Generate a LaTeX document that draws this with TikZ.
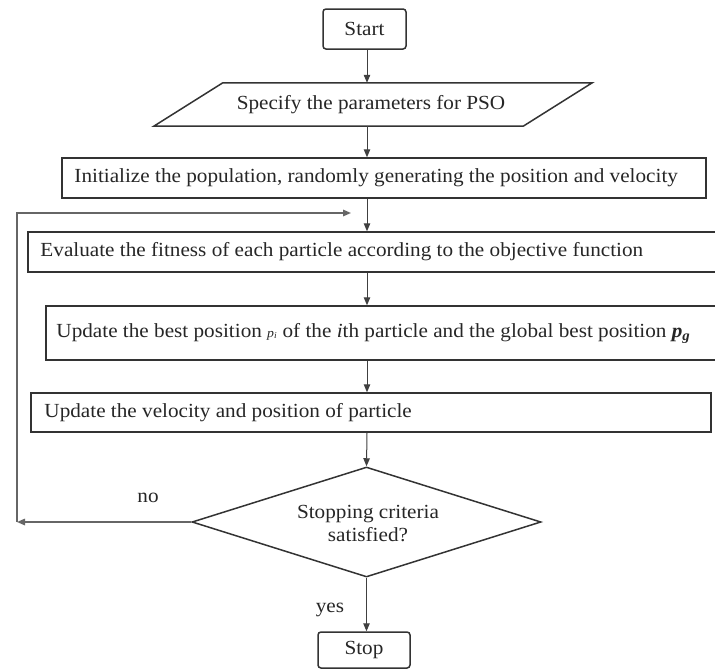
\documentclass[tikz,border=0pt]{standalone}
\usepackage{fontspec}
\setmainfont{Liberation Serif}[FakeStretch=1.06]
\usetikzlibrary{arrows.meta,shapes.geometric,calc}
\begin{document}
\begin{tikzpicture}[x=1pt,y=-1pt,
  box/.style={draw=black!80, line width=1.5pt, inner sep=0pt},
  txt/.style={font=\fontsize{20}{23}\selectfont, text=black!85, inner sep=0pt},
  arr/.style={draw=black!75, line width=1pt, -{Triangle[length=8pt,width=6.5pt]}},
  loopline/.style={draw=black!60, line width=1.5pt}
]
\useasboundingbox (0,0) rectangle (715,672);
\coordinate (sx) at (367,0);

% Start
\node[box, rounded corners=3pt, minimum width=83pt, minimum height=40pt, txt] (start) at (364.5,29) {Start};

% parameters (parallelogram)
\node[inner sep=0pt, minimum width=438pt, minimum height=43pt] (param) at (373,104.5) {};
\draw[box] ([xshift=69pt]param.north west) -- (param.north east) -- ([xshift=-69pt]param.south east) -- (param.south west) -- cycle;
\node[txt] (tparam) at (371,104.5) {Specify the parameters for PSO};

% Initialize
\node[box, minimum width=644pt, minimum height=40pt] (init) at (384,178) {};
\node[txt, anchor=west] (tinit) at ([xshift=13pt]init.west) {Initialize the population, randomly generating the position and velocity};

% Evaluate
\node[box, minimum width=689pt, minimum height=40pt] (eval) at (372.5,252) {};
\node[txt, anchor=west] (teval) at ([xshift=13pt]eval.west) {Evaluate the fitness of each particle according to the objective function};

% Update best
\node[box, minimum width=671pt, minimum height=54pt] (upd) at (381.5,333) {};
\node[txt, anchor=west] (tupd) at ([xshift=11pt]upd.west) {Update the best position {\fontsize{13}{13}\selectfont\textit{p}\textsubscript{\textit{i}}} of the \textit{i}th particle and the global best position \textbf{\textit{p}}\textsubscript{\textbf{\textit{g}}}};

% Update velocity
\node[box, minimum width=680pt, minimum height=39pt] (vel) at (371,412.5) {};
\node[txt, anchor=west] (tvel) at ([xshift=14pt]vel.west) {Update the velocity and position of particle};

% Decision
\node[box, diamond, minimum width=349pt, minimum height=110pt] (dec) at (366.5,522) {};
\node[txt, align=center] (tdec) at (368,524) {Stopping criteria\\satisfied?};

% Stop
\node[box, rounded corners=3pt, minimum width=92pt, minimum height=36pt, txt] (stop) at (364,650) {Stop};

% connectors
\draw[arr] (sx |- start.south) -- (sx |- param.north);
\draw[arr] (sx |- param.south) -- (sx |- init.north);
\draw[arr] (sx |- init.south) -- (sx |- eval.north);
\draw[arr] (sx |- eval.south) -- (sx |- upd.north);
\draw[arr] (sx |- upd.south) -- (sx |- vel.north);
\draw[arr] (sx |- vel.south) -- (dec.north);
\draw[arr] (dec.south) -- (dec.south |- stop.north);

% loop back
\coordinate (lc) at (17,0);
\coordinate (loopend) at (351,213);
\draw[arr, loopline] (dec.west) -- (lc |- dec.west);
\draw[arr, loopline] (lc |- dec.west) -- (lc |- loopend) -- (loopend);

% labels
\node[txt] (no) at (148,498) {no};
\node[txt] (yes) at (330,610) {yes};
\end{tikzpicture}
\end{document}
